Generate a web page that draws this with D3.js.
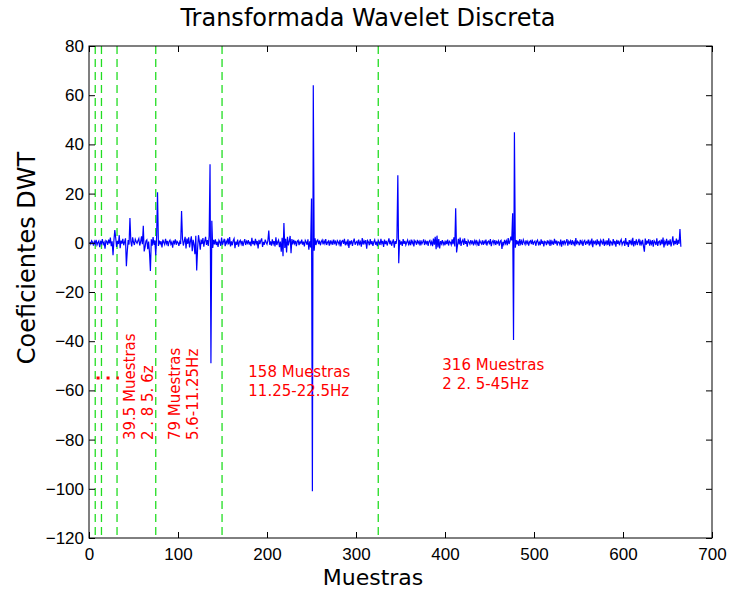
<!DOCTYPE html>
<html>
<head>
<meta charset="utf-8">
<script src="https://cdn.jsdelivr.net/npm/d3@7/dist/d3.min.js"></script>
<style>
  html, body { margin: 0; padding: 0; background: #fff; }
  svg { display: block; }
</style>
</head>
<body>
<svg id="chart" width="730" height="593"></svg>
<script>
// DWT coefficients, one value per sample (samples 1..665)
const coefficients = [
  0.3,-0.5,0.8,0.2,-1.1,0.6,-0.4,1.2,-0.9,0.1,0.7,-1.8,0.4,-0.3,1.5,-0.6,0.2,-2.4,0.9,0.5,
  -0.8,1.3,-0.2,2.1,-1.4,0.6,-5.0,1.1,5.2,2.0,-1.7,0.8,-0.5,3.1,-2.2,0.9,-0.3,1.6,-1.0,0.4,
  1.8,-9.5,-3.4,1.1,-0.7,10.1,0.6,-1.5,2.2,0.3,-0.9,1.4,0.5,-0.2,0.8,1.7,-1.1,0.4,2.6,-0.6,
  6.9,-3.5,-1.8,0.7,1.2,-2.6,0.5,-4.2,-11.5,1.4,-1.2,2.3,-0.8,1.0,-5.1,2.8,20.5,-1.3,0.9,-0.4,
  0.6,-1.9,1.3,0.2,-0.7,1.6,-0.3,0.8,-1.4,0.5,1.1,-0.6,0.3,-2.0,0.9,-0.2,1.4,-0.8,0.6,0.1,
  -1.2,0.4,-0.5,12.9,1.8,-1.1,0.6,2.4,-2.3,1.7,-0.4,2.2,-1.9,0.8,2.6,-3.4,1.2,-0.7,-4.6,2.9,
  -11.3,-2.4,3.1,0.6,-2.8,1.3,-0.5,1.9,-1.6,0.7,2.4,-0.9,1.1,-1.3,2.7,31.9,-49.0,9.0,-2.1,1.2,
  -0.6,1.4,-0.9,0.5,-1.7,1.0,0.3,-1.2,2.1,-0.8,0.4,1.6,-1.4,0.7,-0.3,1.8,-0.7,2.3,-1.5,0.6,
  -1.0,0.9,1.7,-2.2,0.5,-0.8,1.3,-1.6,0.4,1.0,-0.5,0.8,-1.3,0.3,1.5,-0.9,0.6,-0.2,1.1,-0.7,
  0.5,-1.4,2.0,-0.6,0.8,-1.1,1.6,-0.3,0.7,-2.3,1.2,-0.5,0.9,1.8,-1.7,0.4,-0.8,1.3,0.2,-0.6,
  0.9,5.0,-0.8,0.6,-1.2,1.4,-0.4,0.7,-1.5,2.2,-0.9,0.3,1.1,-1.8,0.5,-3.6,2.0,-5.5,8.0,-2.1,
  1.6,-3.9,2.4,-1.1,0.7,2.8,-4.2,1.5,-0.6,1.2,-0.3,0.8,-1.4,0.6,1.0,-0.9,0.4,-0.2,1.3,-0.7,
  0.5,-1.5,1.0,0.3,-0.8,1.4,-2.8,0.6,-1.9,18.0,-101.0,64.0,-3.2,1.8,-0.9,0.7,1.2,-0.5,0.9,-1.0,
  0.4,1.1,-0.6,0.8,-0.3,1.5,-0.9,0.2,0.7,-1.2,1.0,-0.4,0.6,-0.8,1.3,-0.2,0.5,-1.1,0.9,0.3,
  -0.7,1.2,-1.5,0.6,0.9,-0.4,1.6,-1.0,0.3,-0.6,1.4,-2.1,0.8,-0.3,1.0,-1.3,0.5,1.7,-0.8,0.2,
  0.6,-1.1,1.3,-0.5,0.4,-1.6,1.9,-0.7,0.8,-0.2,1.1,-2.4,0.9,0.3,-1.0,1.5,-0.6,0.7,-1.3,0.4,
  1.2,-0.8,0.5,-1.4,1.0,0.2,-0.9,1.6,-0.3,0.7,-1.7,1.3,-0.5,0.8,-1.1,0.4,1.8,-0.6,0.9,-1.2,
  0.3,1.4,-2.0,0.7,-0.4,1.9,27.5,-8.3,1.2,-0.7,0.6,-1.3,1.5,-0.4,0.8,-0.9,0.2,1.1,-0.6,0.5,
  -1.0,1.3,-0.3,0.7,-1.5,0.9,0.4,-0.8,1.2,-0.2,0.6,-1.1,1.0,-0.5,0.3,1.4,-0.9,0.6,-0.3,0.8,
  -1.2,0.5,1.0,-0.6,0.4,-1.4,1.7,-0.8,2.4,-2.6,2.9,-1.9,1.5,-2.3,0.7,-0.4,1.1,-0.7,0.3,-1.0,
  0.9,-0.5,1.3,-1.1,0.6,0.2,-0.8,1.4,-0.6,2.2,-1.5,14.0,-3.9,-1.2,1.6,-0.7,2.1,-1.3,0.5,1.2,
  -0.9,1.8,-0.4,0.7,-1.6,1.0,0.3,-0.6,1.1,-0.2,0.5,-1.0,0.8,-0.3,1.2,-0.7,0.4,-1.3,0.9,0.1,
  -0.5,1.0,-0.8,0.6,-0.2,1.3,-1.1,0.4,0.7,-0.6,1.5,-1.4,0.3,0.9,-0.4,1.1,-0.9,0.5,-0.1,0.8,
  -1.2,0.6,1.0,-2.5,0.4,-0.7,1.2,-0.3,0.8,-1.0,1.9,-0.5,0.6,2.5,1.0,12.0,-39.5,44.9,-2.0,1.1,
  -0.6,0.9,-1.3,1.5,-0.4,0.7,-0.9,1.2,0.2,-0.7,1.0,-0.3,0.6,-1.1,0.4,0.8,-0.5,1.3,-0.8,0.3,
  0.7,-1.2,0.5,1.1,-0.6,0.2,-1.0,1.4,-0.4,0.8,-1.5,0.6,0.3,-0.9,1.0,-0.2,0.7,-1.3,1.2,-0.5,
  0.4,-0.8,1.6,-0.3,0.9,-1.1,0.5,0.2,-0.7,1.3,-1.6,0.8,-0.4,1.0,-0.6,0.3,1.5,-1.2,0.6,-0.2,
  0.8,-0.9,1.1,-0.5,0.4,-1.4,1.9,-0.7,0.6,0.1,-1.0,1.2,-0.3,0.7,-1.3,0.5,1.0,-0.8,0.4,-0.1,
  1.3,-1.1,0.6,-0.4,1.7,-1.8,0.9,-0.2,0.5,-1.0,1.4,-0.6,0.8,-1.5,1.1,0.3,-0.7,1.6,-1.2,0.4,
  -0.5,1.0,-0.9,1.8,-1.4,0.6,0.2,-1.1,1.5,-0.3,0.7,-1.6,1.2,-0.4,0.9,-1.0,0.5,1.3,-0.8,0.2,
  0.6,-1.3,1.9,-0.7,0.4,-1.7,1.1,-0.2,0.8,-1.0,2.0,-1.5,0.7,-0.4,1.4,-0.9,0.3,1.6,-1.1,0.5,
  -0.6,1.2,-1.4,-3.6,1.7,-0.8,0.9,-0.3,1.5,-1.2,0.6,-0.5,1.1,-1.6,0.8,0.2,-0.9,1.8,-1.3,0.4,
  0.7,-1.0,1.3,-0.6,2.1,-1.9,0.5,-0.4,1.6,-1.2,0.9,-0.7,1.4,-1.5,0.3,2.6,-1.1,0.8,-0.5,1.7,
  -0.9,1.2,-0.4,5.6,-1.6
];

// Boundaries between decomposition levels (sample index)
const levelBounds = [7, 14, 31.5, 75, 149.5, 325];

// Axis ticks
const xTicks = [0, 100, 200, 300, 400, 500, 600, 700];
const yTicks = [-120, -100, -80, -60, -40, -20, 0, 20, 40, 60, 80];

// Band annotations
const bandLabels = [
  { x: 179, y: -54.6, lines: ["158 Muestras", "11.25-22.5Hz"] },
  { x: 397, y: -51.7, lines: ["316 Muestras", "2 2. 5-45Hz"] }
];
const bandLabelsVertical = [
  { x: 51.7, y: -80.2, lines: ["39.5 Muestras", "2  . 8 5. 6z"] },
  { x: 102.2, y: -80.2, lines: ["79 Muestras", "5.6-11.25Hz"] }
];
const dotMarker = { x0: 8.5, x1: 33.5, y: -55 };

const svg = d3.select("#chart");
const plotLeft = 89, plotRight = 712, plotTop = 46, plotBottom = 538;

const x = d3.scaleLinear().domain([0, 700]).range([plotLeft, plotRight]);
const y = d3.scaleLinear().domain([-120, 80]).range([plotBottom, plotTop]);

const tickFont = "'Liberation Sans', Arial, sans-serif";
const labelFont = "'DejaVu Sans', Verdana, sans-serif";

// Level boundaries
svg.append("g").selectAll("line").data(levelBounds).join("line")
  .attr("x1", d => x(d)).attr("x2", d => x(d))
  .attr("y1", plotTop).attr("y2", plotBottom)
  .attr("stroke", "#22dd22").attr("stroke-width", 1.3)
  .attr("stroke-dasharray", "8,5");

// Coefficient trace
const line = d3.line()
  .x((d, i) => x(i + 1))
  .y(d => y(d));
svg.append("path")
  .datum(coefficients)
  .attr("d", line)
  .attr("fill", "none")
  .attr("stroke", "#0000ff")
  .attr("stroke-width", 1.2);

// Axes with inward ticks on all four sides
const tickLen = 6;
const axBottom = svg.append("g").attr("transform", `translate(0,${plotBottom})`)
  .call(d3.axisBottom(x).tickValues(xTicks).tickSizeInner(-tickLen).tickSizeOuter(0).tickPadding(10));
const axTop = svg.append("g").attr("transform", `translate(0,${plotTop})`)
  .call(d3.axisTop(x).tickValues(xTicks).tickSizeInner(-tickLen).tickSizeOuter(0).tickFormat(""));
const axLeft = svg.append("g").attr("transform", `translate(${plotLeft},0)`)
  .call(d3.axisLeft(y).tickValues(yTicks).tickSizeInner(-tickLen).tickSizeOuter(0).tickPadding(5)
    .tickFormat(d => d < 0 ? "\u2212" + Math.abs(d) : d));
const axRight = svg.append("g").attr("transform", `translate(${plotRight},0)`)
  .call(d3.axisRight(y).tickValues(yTicks).tickSizeInner(-tickLen).tickSizeOuter(0).tickFormat(""));

[axBottom, axTop, axLeft, axRight].forEach(g => {
  g.select(".domain").remove();
  g.selectAll(".tick line").attr("stroke", "#000").attr("stroke-width", 1);
  g.selectAll("text").attr("font-family", tickFont).attr("font-size", 17).attr("fill", "#000");
});

// Frame
svg.append("rect")
  .attr("x", plotLeft).attr("y", plotTop)
  .attr("width", plotRight - plotLeft).attr("height", plotBottom - plotTop)
  .attr("fill", "none").attr("stroke", "#000").attr("stroke-width", 1);

// Title and axis labels
svg.append("text")
  .attr("x", 368).attr("y", 26)
  .attr("text-anchor", "middle")
  .attr("font-family", labelFont).attr("font-size", 24)
  .text("Transformada Wavelet Discreta");

svg.append("text")
  .attr("x", 373).attr("y", 585)
  .attr("text-anchor", "middle")
  .attr("font-family", labelFont).attr("font-size", 22)
  .text("Muestras");

svg.append("text")
  .attr("transform", `translate(35,258) rotate(-90)`)
  .attr("text-anchor", "middle")
  .attr("font-family", labelFont).attr("font-size", 24)
  .text("Coeficientes DWT");

// Band annotations
bandLabels.forEach(b => {
  const t = svg.append("text")
    .attr("x", x(b.x)).attr("y", y(b.y))
    .attr("font-family", labelFont).attr("font-size", 15).attr("fill", "#ff0000");
  b.lines.forEach((s, i) => {
    t.append("tspan").attr("x", x(b.x)).attr("dy", i === 0 ? 0 : 19).text(s);
  });
});

bandLabelsVertical.forEach(b => {
  const g = svg.append("g")
    .attr("transform", `translate(${x(b.x)},${y(b.y)}) rotate(-90)`);
  b.lines.forEach((s, i) => {
    g.append("text")
      .attr("x", 0).attr("y", i * 18)
      .attr("font-family", labelFont).attr("font-size", 15).attr("fill", "#ff0000")
      .text(s);
  });
});

svg.append("line")
  .attr("x1", x(dotMarker.x0)).attr("x2", x(dotMarker.x1))
  .attr("y1", y(dotMarker.y)).attr("y2", y(dotMarker.y))
  .attr("stroke", "#ff0000").attr("stroke-width", 3)
  .attr("stroke-dasharray", "3,7");
</script>
</body>
</html>
